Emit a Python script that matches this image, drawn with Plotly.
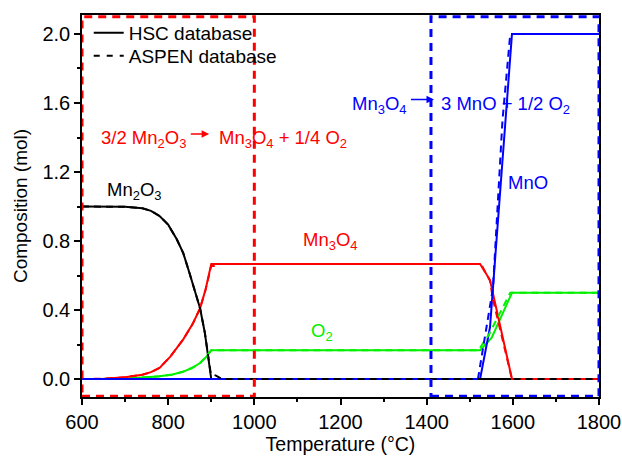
import plotly.graph_objects as go

# ---------------- data ----------------
T_mn2o3_hsc = [600, 700, 740, 760, 780, 800, 820, 835, 850, 862, 874, 885, 893, 900, 1800]
mn2o3_hsc = [1.0, 0.998, 0.99, 0.975, 0.945, 0.895, 0.81, 0.73, 0.61, 0.51, 0.41, 0.27, 0.13, 0.0, 0.0]

T_mn3o4_hsc = [600, 650, 700, 740, 760, 780, 805, 835, 857, 874, 887, 900, 1524, 1547, 1598, 1800]
mn3o4_hsc = [0.0, 0.002, 0.01, 0.025, 0.04, 0.065, 0.13, 0.23, 0.32, 0.41, 0.52, 0.667, 0.667, 0.574, 0.0, 0.0]

T_o2_hsc = [600, 700, 758, 780, 810, 834, 855, 874, 887, 900, 1524, 1551, 1598, 1800]
o2_hsc = [0.0, 0.002, 0.012, 0.016, 0.026, 0.042, 0.064, 0.093, 0.125, 0.167, 0.167, 0.24, 0.5, 0.5]

T_mno_hsc = [600, 1524, 1547, 1582, 1598, 1800]
mno_hsc = [0.0, 0.0, 0.30, 1.5, 2.0, 2.0]

T_mn2o3_asp = [600, 700, 740, 760, 780, 800, 820, 835, 850, 862, 874, 885, 893, 899, 911, 925, 1800]
mn2o3_asp = [1.0, 0.998, 0.99, 0.975, 0.945, 0.895, 0.81, 0.73, 0.61, 0.51, 0.41, 0.27, 0.13, 0.03, 0.02, 0.0, 0.0]

T_mn3o4_asp = [600, 650, 700, 740, 760, 780, 805, 835, 857, 874, 887, 900, 906, 915, 1526, 1547, 1554, 1593, 1598, 1800]
mn3o4_asp = [0.0, 0.002, 0.01, 0.025, 0.04, 0.065, 0.13, 0.23, 0.32, 0.41, 0.52, 0.655, 0.655, 0.667, 0.667, 0.57, 0.46, 0.035, 0.0, 0.0]

T_o2_asp = [600, 700, 758, 780, 810, 834, 855, 874, 887, 900, 1520, 1545, 1594, 1800]
o2_asp = [0.0, 0.002, 0.012, 0.016, 0.026, 0.042, 0.064, 0.093, 0.125, 0.167, 0.167, 0.26, 0.5, 0.5]

T_mno_asp = [600, 1519, 1554, 1576, 1594, 1800]
mno_asp = [0.0, 0.0, 0.53, 1.5, 2.0, 2.0]

# reaction windows (temperature ranges)
window_red = [600, 1000]
window_blue = [1410, 1800]

x_ticks = [600, 800, 1000, 1200, 1400, 1600, 1800]
y_ticks = [0.0, 0.4, 0.8, 1.2, 1.6, 2.0]
y_tick_labels = ["0.0", "0.4", "0.8", "1.2", "1.6", "2.0"]

BLACK = "#000000"
RED = "#ff0000"
GREEN = "#00f000"
BLUE = "#0000ff"
FONT = "Liberation Sans, Arial, sans-serif"
DASH = "7px,5px"
LW = 2

fig = go.Figure()

# HSC (solid)
fig.add_trace(go.Scatter(x=T_mn2o3_hsc, y=mn2o3_hsc, mode="lines", line=dict(color=BLACK, width=LW), showlegend=False))
fig.add_trace(go.Scatter(x=T_o2_hsc, y=o2_hsc, mode="lines", line=dict(color=GREEN, width=LW), showlegend=False))
fig.add_trace(go.Scatter(x=T_mn3o4_hsc, y=mn3o4_hsc, mode="lines", line=dict(color=RED, width=LW), showlegend=False))
fig.add_trace(go.Scatter(x=T_mno_hsc, y=mno_hsc, mode="lines", line=dict(color=BLUE, width=LW), showlegend=False))
# ASPEN (dashed)
fig.add_trace(go.Scatter(x=T_o2_asp, y=o2_asp, mode="lines", line=dict(color=GREEN, width=LW, dash=DASH), showlegend=False))
fig.add_trace(go.Scatter(x=T_mn3o4_asp, y=mn3o4_asp, mode="lines", line=dict(color=RED, width=LW, dash=DASH), showlegend=False))
fig.add_trace(go.Scatter(x=T_mno_asp, y=mno_asp, mode="lines", line=dict(color=BLUE, width=LW, dash=DASH), showlegend=False))
fig.add_trace(go.Scatter(x=T_mn2o3_asp, y=mn2o3_asp, mode="lines", line=dict(color=BLACK, width=LW, dash=DASH), showlegend=False))

# legend entries (two one-item legends so the spacing matches)
fig.add_trace(go.Scatter(x=[None], y=[None], mode="lines", name="HSC database",
                         line=dict(color=BLACK, width=LW), legend="legend"))
fig.add_trace(go.Scatter(x=[None], y=[None], mode="lines", name="ASPEN database",
                         line=dict(color=BLACK, width=LW, dash="6px,7px"), legend="legend2"))

# dashed reaction windows
fig.add_shape(type="rect", xref="x", yref="y", x0=window_red[0], x1=window_red[1], y0=-0.1, y1=2.1,
              line=dict(color=RED, width=3, dash="8px,6px"), layer="above")
fig.add_shape(type="rect", xref="x", yref="y", x0=window_blue[0], x1=window_blue[1], y0=-0.1, y1=2.1,
              line=dict(color=BLUE, width=3, dash="8px,6px"), layer="above")

ann_font = 18.5


def label(x, y, text, color, xanchor="center"):
    fig.add_annotation(x=x, y=y, xref="x", yref="y", text=text, showarrow=False,
                       font=dict(family=FONT, size=ann_font, color=color), xanchor=xanchor, yanchor="middle")


def arrow(x0, x1, y, color):
    fig.add_annotation(x=x1, y=y, ax=x0, ay=y, xref="x", yref="y", axref="x", ayref="y", text="",
                       showarrow=True, arrowhead=2, arrowsize=1, arrowwidth=1.5, arrowcolor=color,
                       standoff=0, startstandoff=0)


# reaction 1
label(847, 1.39, "3/2 Mn<sub>2</sub>O<sub>3</sub>", RED, "right")
arrow(849, 895, 1.42, RED)
label(914, 1.39, "Mn<sub>3</sub>O<sub>4</sub> + 1/4 O<sub>2</sub>", RED, "left")
# reaction 2
label(1358, 1.59, "Mn<sub>3</sub>O<sub>4</sub>", BLUE, "right")
arrow(1360, 1417, 1.62, BLUE)
label(1428, 1.59, "3 MnO + 1/2 O<sub>2</sub>", BLUE, "left")

# species labels
label(721, 1.09, "Mn<sub>2</sub>O<sub>3</sub>", BLACK)
label(1176, 0.80, "Mn<sub>3</sub>O<sub>4</sub>", RED)
label(1157, 0.27, "O<sub>2</sub>", GREEN)
label(1635, 1.14, "MnO", BLUE)

axis_common = dict(
    showgrid=False, zeroline=False, showline=True, linecolor=BLACK, linewidth=1.5, mirror=True,
    ticks="outside", ticklen=6, tickwidth=1.5, tickcolor=BLACK, automargin=False,
    tickfont=dict(family=FONT, size=20, color=BLACK),
)

legend_common = dict(xanchor="left", yanchor="middle", bgcolor="rgba(0,0,0,0)",
                     font=dict(family=FONT, size=19, color=BLACK), itemwidth=30)

fig.update_layout(
    template="none",
    width=622, height=460,
    margin=dict(l=82, r=23, t=15, b=63),
    paper_bgcolor="white", plot_bgcolor="white",
    font=dict(family=FONT, color=BLACK),
    xaxis=dict(range=[600, 1800], tickvals=x_ticks,
               minor=dict(dtick=100, ticks="outside", ticklen=3, tickwidth=1.5, tickcolor=BLACK),
               title=dict(text="Temperature (°C)", font=dict(family=FONT, size=19.5), standoff=6),
               **axis_common),
    yaxis=dict(range=[-0.104, 2.11], tickvals=y_ticks, ticktext=y_tick_labels,
               minor=dict(dtick=0.2, tick0=0, ticks="outside", ticklen=3, tickwidth=1.5, tickcolor=BLACK),
               title=dict(text="Composition (mol)", font=dict(family=FONT, size=19), standoff=10),
               **axis_common),
    showlegend=True,
    legend=dict(x=0.013, y=0.953, **legend_common),
    legend2=dict(x=0.013, y=0.893, **legend_common),
)

fig.write_html("out.html")
